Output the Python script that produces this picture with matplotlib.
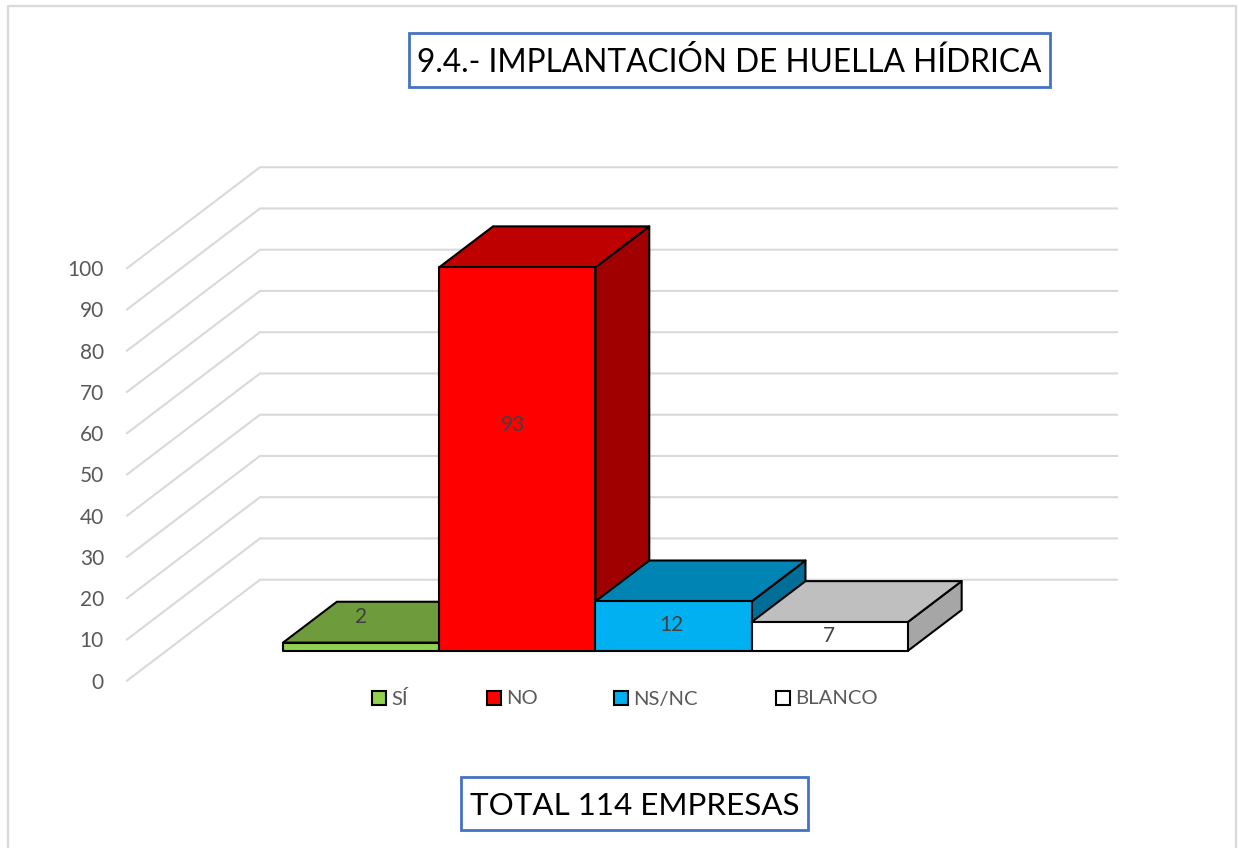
import matplotlib
matplotlib.use("Agg")
import matplotlib.pyplot as plt
from matplotlib.patches import Polygon, Rectangle

plt.rcParams["font.family"] = ["Lato", "DejaVu Sans"]

# Data
categories = ["SÍ", "NO", "NS/NC", "BLANCO"]
values = [2, 93, 12, 7]
y_ticks = [0, 10, 20, 30, 40, 50, 60, 70, 80, 90, 100]
title = "9.4.- IMPLANTACIÓN DE HUELLA HÍDRICA"
total_label = "TOTAL 114 EMPRESAS"

# Colours per bar: front, top, side
front_cols = ["#92D050", "#FF0000", "#00B0F0", "#FFFFFF"]
top_cols = ["#6E9C3C", "#BF0000", "#0084B4", "#BFBFBF"]
side_cols = ["#587D30", "#A00000", "#006E96", "#A6A6A6"]
grid_col = "#D9D9D9"
text_col = "#595959"
box_col = "#4472C4"

# Fake 3D projection, all in pixels of the 1239x848 picture
PX_PER_UNIT = 4.125
Y0 = 680.7
WALL_X0, WALL_X1 = 127.0, 1117.0
DEPTH_X, DEPTH_Y = 133.0, -101.0  # full floor depth
BAR_X0 = 283.0
BAR_W = 156.2
BAR_FRONT = 0.295  # where the bars start on the floor
BAR_BACK = 0.70


def project(col, val, depth):
    """col in bar widths, val in chart units, depth 0 (front) to 1 (back wall)"""
    x0 = BAR_X0 - BAR_FRONT * DEPTH_X
    return (x0 + col * BAR_W + depth * DEPTH_X, Y0 - val * PX_PER_UNIT + depth * DEPTH_Y)


fig = plt.figure(figsize=(12.39, 8.48), dpi=100)
ax = fig.add_axes([0, 0, 1, 1])
ax.set_xlim(0, 1239)
ax.set_ylim(848, 0)
ax.axis("off")

# picture frame
ax.plot([8, 8, 1236, 1236], [848, 6, 6, 848], color="#D9D9D9", lw=1.6, zorder=1)

# gridlines: slanted part on the side wall, flat part on the back wall
for t in y_ticks:
    yf = Y0 - t * PX_PER_UNIT
    ax.plot([WALL_X0, WALL_X0 + DEPTH_X, WALL_X1], [yf, yf + DEPTH_Y, yf + DEPTH_Y],
            color=grid_col, lw=1.5, zorder=2, solid_joinstyle="miter")
    ax.text(104, yf + 2, str(t), ha="right", va="center", fontsize=15, color=text_col)

# bars, left to right so each one hides the side of the previous
for i, v in enumerate(values):
    front = [project(i, 0, BAR_FRONT), project(i + 1, 0, BAR_FRONT),
             project(i + 1, v, BAR_FRONT), project(i, v, BAR_FRONT)]
    top = [project(i, v, BAR_FRONT), project(i + 1, v, BAR_FRONT),
           project(i + 1, v, BAR_BACK), project(i, v, BAR_BACK)]
    side = [project(i + 1, 0, BAR_FRONT), project(i + 1, 0, BAR_BACK),
            project(i + 1, v, BAR_BACK), project(i + 1, v, BAR_FRONT)]
    for pts, col in [(side, side_cols[i]), (top, top_cols[i]), (front, front_cols[i])]:
        ax.add_patch(Polygon(pts, closed=True, facecolor=col, edgecolor="black",
                             lw=1.5, joinstyle="round", zorder=3 + i))

# value labels, placed by eye
label_dx = [0, -4, -2, -1]
label_y = [617, 425, 625, 636]
for i, v in enumerate(values):
    cx = project(i + 0.5, 0, BAR_FRONT)[0] + label_dx[i]
    ax.text(cx, label_y[i], str(v), ha="center", va="center", fontsize=15,
            color="#404040", zorder=10)

# legend
leg_x = [372, 487, 614, 776]
for x, name, col in zip(leg_x, categories, front_cols):
    ax.add_patch(Rectangle((x, 691), 14, 14, facecolor=col, edgecolor="black", lw=1.5, zorder=5))
    ax.text(x + 19.5, 699, name, ha="left", va="center", fontsize=14.6, color=text_col)

# title and total boxes
ax.add_patch(Rectangle((409, 33), 641, 54, facecolor="white", edgecolor=box_col, lw=2))
ax.text(729.5, 63, title, ha="center", va="center", fontsize=22.8, color="black")
ax.add_patch(Rectangle((461, 777), 347, 53, facecolor="white", edgecolor=box_col, lw=2))
ax.text(635, 806, total_label, ha="center", va="center", fontsize=22.6, color="black")

fig.savefig("out.png", dpi=100, facecolor="white")
